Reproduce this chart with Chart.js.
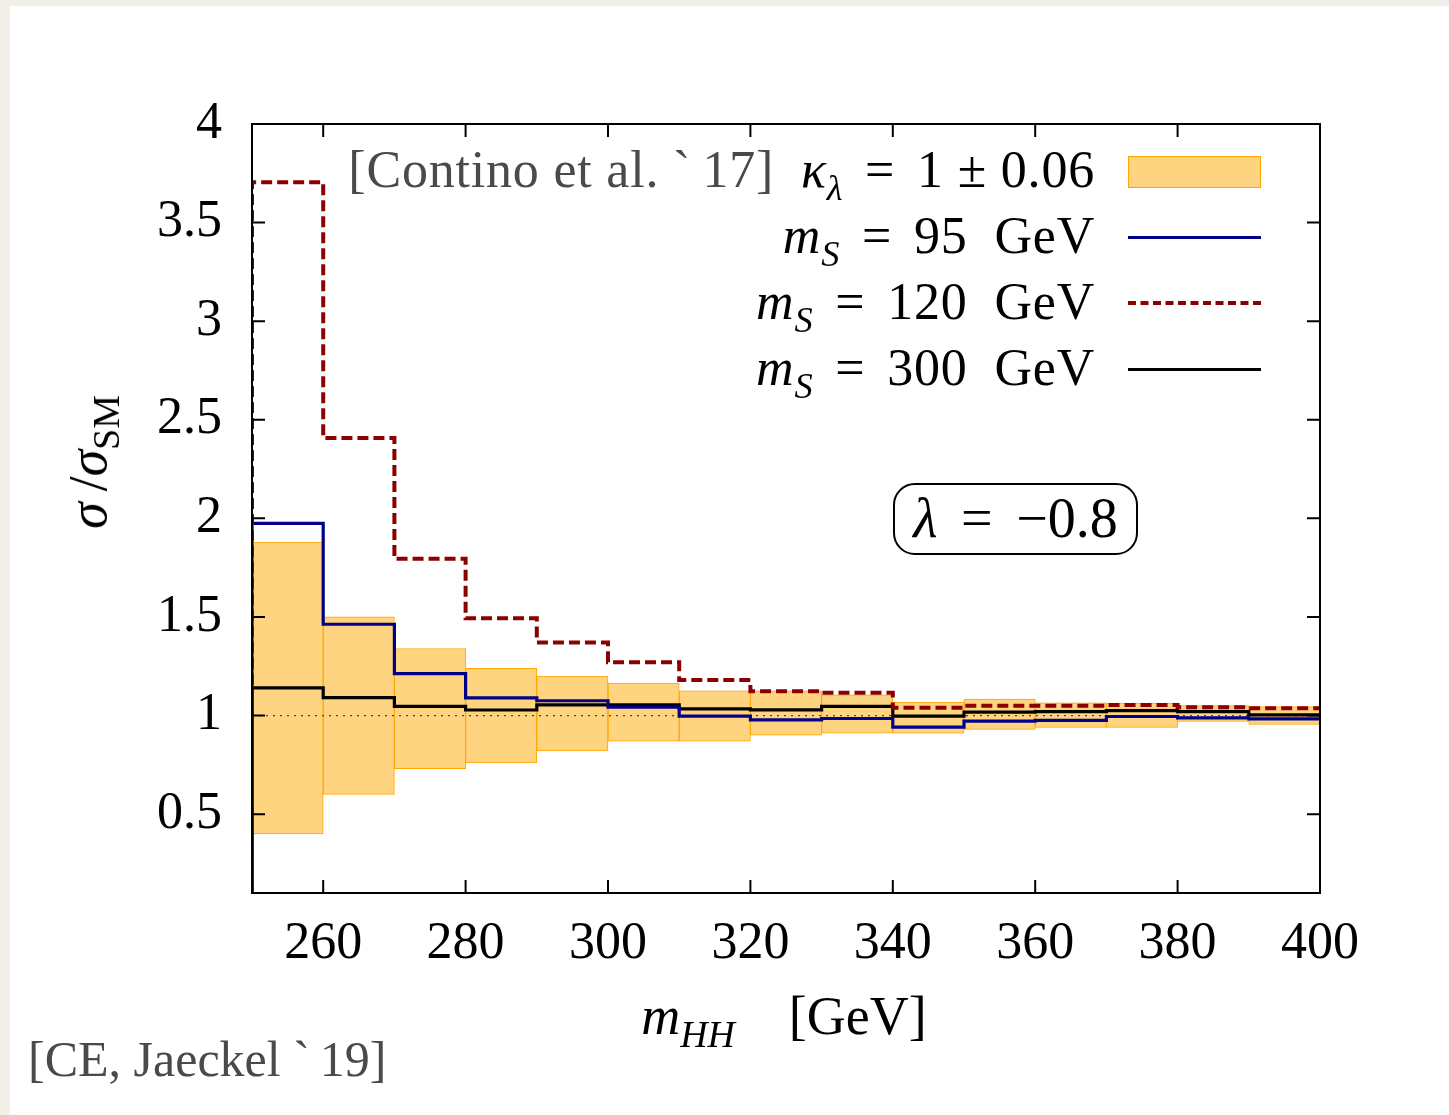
<!DOCTYPE html>
<html>
<head>
<meta charset="utf-8">
<script src="https://cdn.jsdelivr.net/npm/chart.js@4.4.1/dist/chart.umd.min.js"></script>
<style>
  body { margin: 0; width: 1449px; height: 1115px; background: #f2efe8; overflow: hidden; font-family: "Liberation Serif", "DejaVu Serif", serif; }
  #feuille { position: absolute; left: 10px; top: 6px; right: 0; bottom: 0; background: #fff; }
  #graph { position: absolute; left: 0; top: 0; }
  .txt { position: absolute; white-space: nowrap; color: #000; font-size: 52px; line-height: 52px; }
  .leg { right: 354px; text-align: right; letter-spacing: 0.8px; }
  .gris { color: #4a4a4a; }
  sub { font-size: 70%; vertical-align: -0.35em; line-height: 0; }
  .eg { margin: 0 0.42em; }
  .sw { position: absolute; left: 1128px; width: 133px; }
  #boite { position: absolute; left: 893px; top: 483px; width: 245px; height: 72px; box-sizing: border-box;
           border: 2.5px solid #000; border-radius: 22px; text-align: center; font-size: 56px; line-height: 66px; }
</style>
</head>
<body>
<div id="feuille"></div>
<canvas id="graph" width="1449" height="1115"></canvas>

<!-- légende -->
<div class="txt leg" style="top:144px"><span class="gris">[Contino et al. `&thinsp;17]</span>&ensp;<i>κ</i><sub><i>λ</i></sub><span class="eg">=</span>1 ± 0.06</div>
<div class="txt leg" style="top:210px"><i>m</i><sub><i>S</i></sub><span class="eg">=</span>95&ensp;GeV</div>
<div class="txt leg" style="top:276px"><i>m</i><sub><i>S</i></sub><span class="eg">=</span>120&ensp;GeV</div>
<div class="txt leg" style="top:342px"><i>m</i><sub><i>S</i></sub><span class="eg">=</span>300&ensp;GeV</div>
<div class="sw" style="top:156px; height:32px; box-sizing:border-box; background:#ffd480; border:1.5px solid #ffa500"></div>
<div class="sw" style="top:236px; border-top:3px solid #00008b"></div>
<div class="sw" style="top:301px; border-top:4px dashed #8b0000"></div>
<div class="sw" style="top:368px; border-top:3px solid #000"></div>

<div id="boite"><i>λ</i><span class="eg">=</span>−0.8</div>

<!-- titres des axes -->
<div class="txt" style="left:88px; top:462px; font-size:54px; line-height:54px; transform:translate(-50%,-50%) rotate(-90deg)"><i>σ</i>&thinsp;/<i>σ</i><sub>SM</sub></div>
<div class="txt" style="left:784px; top:989px; transform:translateX(-50%); font-size:54px; line-height:54px"><i>m</i><sub><i>HH</i></sub>&emsp;[GeV]</div>
<div class="txt gris" style="left:28px; top:1034px; font-size:50px; line-height:50px">[CE, Jaeckel `&thinsp;19]</div>

<script>
// === DONNÉES ===
const bordsBins = [250, 260, 270, 280, 290, 300, 310, 320, 330, 340, 350, 360, 370, 380, 390, 400];

// bande kappa_lambda = 1 +- 0.06
const bandeBas  = [0.40, 0.60, 0.73, 0.76, 0.82, 0.87, 0.87, 0.90, 0.91, 0.91, 0.93, 0.94, 0.94, 0.97, 0.955];
const bandeHaut = [1.88, 1.50, 1.34, 1.24, 1.20, 1.165, 1.125, 1.125, 1.105, 1.068, 1.084, 1.064, 1.063, 1.05, 1.045];

// rapports sigma / sigma_SM par masse du scalaire
const ms95  = [1.975, 1.463, 1.213, 1.090, 1.075, 1.042, 0.997, 0.978, 0.985, 0.941, 0.972, 0.975, 0.995, 0.988, 0.983];
const ms120 = [3.705, 2.408, 1.795, 1.493, 1.371, 1.270, 1.180, 1.123, 1.115, 1.039, 1.050, 1.050, 1.054, 1.042, 1.037];
const ms300 = [1.140, 1.091, 1.046, 1.028, 1.054, 1.054, 1.034, 1.029, 1.046, 0.997, 1.017, 1.020, 1.025, 1.020, 1.003];

const ticksX = [260, 280, 300, 320, 340, 360, 380, 400];
const ticksY = [0.5, 1, 1.5, 2, 2.5, 3, 3.5, 4];
const yMin = 0.1, yMax = 4;

// histogramme en escalier, qui part du bas de l'axe
function escalier(valeurs) {
  const pts = [{ x: bordsBins[0], y: yMin }];
  valeurs.forEach((v, i) => {
    pts.push({ x: bordsBins[i], y: v });
    pts.push({ x: bordsBins[i + 1], y: v });
  });
  return pts;
}

const barresBande = bandeBas.map((b, i) => ({
  x: (bordsBins[i] + bordsBins[i + 1]) / 2,
  y: [b, bandeHaut[i]]
}));

function ligne(data, couleur, ordre, extra = {}) {
  return Object.assign({
    type: 'line', data, borderColor: couleur, borderWidth: 3.2,
    pointRadius: 0, tension: 0, fill: false, order: ordre
  }, extra);
}

// cadre + graduations vers l'intérieur (style gnuplot)
const cadre = {
  id: 'cadre',
  afterDatasetsDraw(chart) {
    const { ctx, chartArea: { left, right, top, bottom }, scales: { x, y } } = chart;
    ctx.save();
    ctx.strokeStyle = '#000';
    ctx.lineWidth = 2;
    ctx.beginPath();
    ticksX.forEach(v => {
      const px = x.getPixelForValue(v);
      ctx.moveTo(px, bottom); ctx.lineTo(px, bottom - 13);
      ctx.moveTo(px, top); ctx.lineTo(px, top + 13);
    });
    ticksY.forEach(v => {
      const py = y.getPixelForValue(v);
      ctx.moveTo(left, py); ctx.lineTo(left + 13, py);
      ctx.moveTo(right, py); ctx.lineTo(right - 13, py);
    });
    ctx.stroke();
    ctx.strokeRect(left, top, right - left, bottom - top);
    ctx.restore();
  }
};

const policeTicks = { family: "'Liberation Serif', 'DejaVu Serif', serif", size: 52 };

new Chart(document.getElementById('graph'), {
  type: 'line',
  data: {
    datasets: [
      ligne(escalier(ms120), '#8b0000', 0, { borderDash: [11, 5], borderWidth: 4 }),
      ligne(escalier(ms95), '#00008b', 1),
      ligne(escalier(ms300), '#000000', 2),
      ligne([{ x: bordsBins[0], y: 1 }, { x: bordsBins[bordsBins.length - 1], y: 1 }], '#444', 3,
            { borderWidth: 1.2, borderDash: [2, 5] }),
      {
        type: 'bar', data: barresBande, order: 4,
        backgroundColor: '#ffd480', borderColor: '#ffa500', borderWidth: 1,
        borderSkipped: false, barPercentage: 1, categoryPercentage: 1
      }
    ]
  },
  options: {
    responsive: false,
    animation: false,
    layout: { padding: { top: 124, right: 129, left: 0, bottom: 0 } },
    plugins: { legend: { display: false }, tooltip: { enabled: false } },
    scales: {
      x: {
        type: 'linear', min: 250, max: 400, offset: false,
        grid: { display: false, drawTicks: false },
        border: { display: false },
        ticks: { font: policeTicks, color: '#000', padding: 20, maxRotation: 0 },
        afterBuildTicks: s => { s.ticks = ticksX.map(v => ({ value: v })); },
        afterFit: s => { s.height = 222; }
      },
      y: {
        type: 'linear', min: yMin, max: yMax,
        grid: { display: false, drawTicks: false },
        border: { display: false },
        ticks: { font: policeTicks, color: '#000', padding: 30, callback: v => String(v) },
        afterBuildTicks: s => { s.ticks = ticksY.map(v => ({ value: v })); },
        afterFit: s => { s.width = 252; }
      }
    }
  },
  plugins: [cadre]
});
</script>
</body>
</html>
